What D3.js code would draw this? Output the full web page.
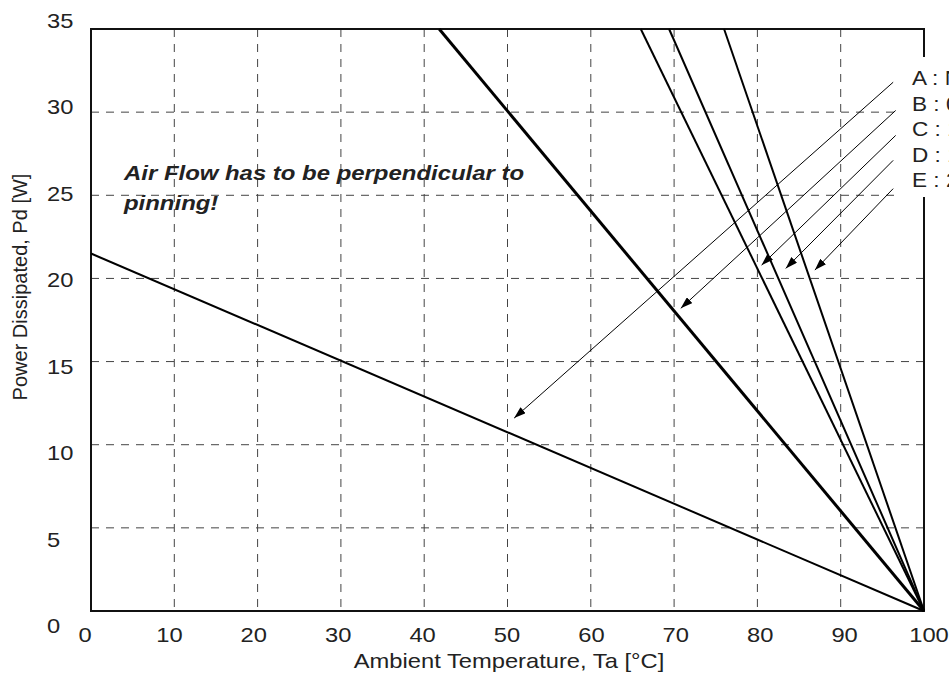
<!DOCTYPE html>
<html>
<head>
<meta charset="utf-8">
<script src="https://cdn.jsdelivr.net/npm/d3@7"></script>
<style>
  body { margin: 0; background: #fff; overflow: hidden; }
  text { font-family: "Liberation Sans", Arial, sans-serif; fill: #222; }
  .grid line { stroke: #444; stroke-width: 1; stroke-dasharray: 8,7; }
</style>
</head>
<body>
<div id="chart"></div>
<script>
// Data
const xTicks = [0, 10, 20, 30, 40, 50, 60, 70, 80, 90, 100];
const yTicks = [0, 5, 10, 15, 20, 25, 30, 35];
const seriesNames = ["A", "B", "C", "D", "E"];
const legendLabels = ["A : Natural Convection", "B : 0.5 m/s", "C : 1.0 m/s", "D : 1.5 m/s", "E : 2.0 m/s"];
// derating lines, Ta [°C] vs Pd [W]
const lineTa = [[0, 100], [41.8, 100], [66.0, 100], [69.4, 100], [76.0, 100]];
const linePd = [[21.5, 0], [35, 0], [35, 0], [35, 0], [35, 0]];
const lineWidth = [2, 3, 2, 2, 2];
// arrows from legend to curves
const arrowFromTa = [96.3, 96.6, 96.6, 96.3, 96.3];
const arrowFromPd = [31.8, 30.1, 28.6, 27.1, 25.4];
const arrowToTa = [50.8, 70.8, 80.5, 83.4, 86.9];
const arrowToPd = [11.6, 18.2, 20.8, 20.6, 20.5];

const width = 949, height = 675;
const stretch = 1.13; // text in the picture is a bit wide

const svg = d3.select("#chart").append("svg")
  .attr("width", width)
  .attr("height", height);

svg.append("defs").append("marker")
  .attr("id", "arrow")
  .attr("viewBox", "0 0 12 8")
  .attr("refX", 12)
  .attr("refY", 4)
  .attr("markerWidth", 12)
  .attr("markerHeight", 8)
  .attr("markerUnits", "userSpaceOnUse")
  .attr("orient", "auto")
  .append("path")
  .attr("d", "M0,0 L12,4 L0,8 Z")
  .attr("fill", "#000");

// Scales
const x = d3.scaleLinear().domain([0, 100]).range([91, 924]);
const y = d3.scaleLinear().domain([0, 35]).range([611, 29]);
// tick labels in the original sit a little off the grid
const xLabel = d3.scaleLinear().domain([0, 100]).range([85, 929]);
const yLabel = d3.scaleLinear().domain([0, 35]).range([633, 28]);

// Grid
svg.append("g").attr("class", "grid")
  .selectAll("line")
  .data(xTicks.slice(1, -1))
  .enter().append("line")
  .attr("x1", d => x(d)).attr("x2", d => x(d))
  .attr("y1", y(35)).attr("y2", y(0));

svg.append("g").attr("class", "grid")
  .selectAll("line")
  .data(yTicks.slice(1, -1))
  .enter().append("line")
  .attr("x1", x(0)).attr("x2", x(100))
  .attr("y1", d => y(d)).attr("y2", d => y(d));

// Frame
svg.append("rect")
  .attr("x", x(0))
  .attr("y", y(35))
  .attr("width", x(100) - x(0))
  .attr("height", y(0) - y(35))
  .attr("fill", "none")
  .attr("stroke", "#111")
  .attr("stroke-width", 2);

// Derating lines
const line = d3.line().x(d => x(d[0])).y(d => y(d[1]));
seriesNames.forEach((name, i) => {
  const pts = lineTa[i].map((t, j) => [t, linePd[i][j]]);
  svg.append("path")
    .datum(pts)
    .attr("d", line)
    .attr("fill", "none")
    .attr("stroke", "#000")
    .attr("stroke-width", lineWidth[i]);
});

// Legend box (covers the frame)
svg.append("rect")
  .attr("x", 898)
  .attr("y", 57)
  .attr("width", 60)
  .attr("height", 140)
  .attr("fill", "#fff");

// Arrows
seriesNames.forEach((name, i) => {
  svg.append("line")
    .attr("x1", x(arrowFromTa[i]))
    .attr("y1", y(arrowFromPd[i]))
    .attr("x2", x(arrowToTa[i]))
    .attr("y2", y(arrowToPd[i]))
    .attr("stroke", "#000")
    .attr("stroke-width", 1)
    .attr("marker-end", "url(#arrow)");
});

// Legend text
legendLabels.forEach((lab, i) => {
  svg.append("text")
    .attr("transform", `translate(912,${85 + i * 25.5}) scale(${stretch},1)`)
    .style("font-size", "20px")
    .text(lab);
});

// Tick labels
xTicks.forEach(d => {
  svg.append("text")
    .attr("transform", `translate(${xLabel(d)},642) scale(${stretch},1)`)
    .attr("text-anchor", "middle")
    .style("font-size", "21px")
    .text(d);
});
yTicks.forEach(d => {
  svg.append("text")
    .attr("transform", `translate(47,${yLabel(d)}) scale(${stretch},1)`)
    .attr("text-anchor", "start")
    .style("font-size", "21px")
    .text(d);
});

// Axis titles
svg.append("text")
  .attr("transform", `translate(509,668) scale(${stretch},1)`)
  .attr("text-anchor", "middle")
  .style("font-size", "21px")
  .text("Ambient Temperature, Ta [°C]");

svg.append("text")
  .attr("transform", "translate(27,287) rotate(-90)")
  .attr("text-anchor", "middle")
  .style("font-size", "20px")
  .text("Power Dissipated, Pd [W]");

// Note
const note = svg.append("text")
  .attr("transform", `translate(124,180) scale(1.14,1)`)
  .style("font-size", "21px")
  .style("font-weight", "bold")
  .style("font-style", "italic");
note.append("tspan").attr("x", 0).attr("y", 0).text("Air Flow has to be perpendicular to");
note.append("tspan").attr("x", 0).attr("y", 30).text("pinning!");
</script>
</body>
</html>
